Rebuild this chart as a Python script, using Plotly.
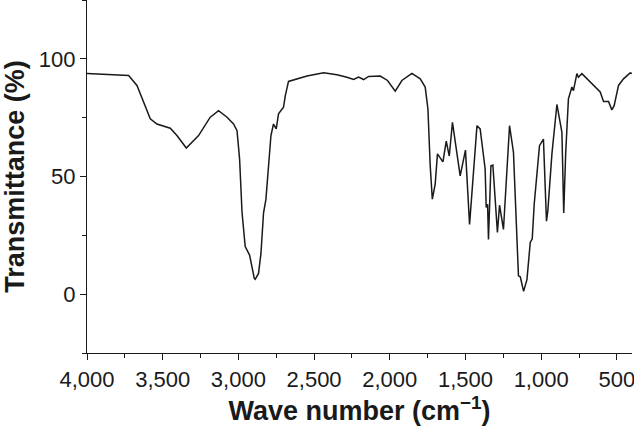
import plotly.graph_objects as go

wavenumber = [4000, 3725, 3670, 3582, 3538, 3450, 3406, 3344, 3263, 3186, 3131, 3075, 3032, 3009, 2992,
              2976, 2955, 2926, 2895, 2889, 2867, 2851, 2834, 2818, 2785, 2768, 2750, 2735, 2702, 2690,
              2669, 2613, 2547, 2437, 2349, 2283, 2239, 2206, 2173, 2140, 2063, 2015, 1964, 1920, 1854,
              1799, 1766, 1748, 1733, 1719, 1700, 1685, 1649, 1627, 1607, 1586, 1535, 1500, 1473, 1424,
              1403, 1370, 1363, 1354, 1348, 1332, 1319, 1289, 1275, 1249, 1209, 1183, 1150, 1138, 1116,
              1094, 1072, 1059, 1046, 1011, 985, 965, 956, 929, 896, 863, 851, 838, 820, 797,
              787, 764, 754, 731, 676, 632, 610, 588, 555, 533, 518, 489, 456, 412, 401]
transmittance = [93.8, 92.9, 88.7, 74.5, 72.3, 70.5, 67.4, 62.1, 67.4, 75.2, 78.0, 75.2, 72.3, 69.5, 57.4,
                 34.8, 20.2, 16.6, 6.7, 6.3, 8.8, 17.3, 34.4, 40.4, 67.4, 72.3, 70.2, 76.6, 79.5, 84.4,
                 90.4, 91.5, 92.7, 94.1, 93.2, 92.2, 91.2, 92.2, 91.2, 92.5, 92.7, 90.8, 86.3, 90.8, 93.8,
                 91.5, 88.0, 78.7, 54.6, 40.4, 46.8, 59.6, 56.2, 65.0, 58.7, 73.0, 50.3, 61.2, 29.6, 71.6,
                 70.2, 53.2, 36.8, 38.2, 23.2, 54.6, 54.9, 26.2, 37.8, 27.5, 71.6, 60.3, 7.8, 7.4, 1.2,
                 6.2, 22.0, 23.5, 38.2, 63.1, 65.9, 31.0, 35.4, 59.6, 80.6, 68.8, 34.5, 60.0, 83.0, 88.0,
                 86.5, 93.7, 92.2, 93.7, 90.1, 87.3, 85.9, 81.9, 81.9, 78.3, 80.1, 88.7, 91.5, 94.0, 93.8]

x_ticks = [4000, 3500, 3000, 2500, 2000, 1500, 1000, 500]
x_labels = ["4,000", "3,500", "3,000", "2,500", "2,000", "1,500", "1,000", "500"]
y_ticks = [0, 50, 100]

fig = go.Figure()
fig.add_trace(go.Scatter(x=wavenumber, y=transmittance, mode="lines",
                         line=dict(color="#1a1a1a", width=1.5), showlegend=False))

fig.update_layout(
    width=634, height=428,
    margin=dict(l=87, r=2, t=0, b=75),
    paper_bgcolor="white", plot_bgcolor="white",
    font=dict(family="Liberation Sans, Arial, sans-serif", color="#1a1a1a"),
)
fig.update_xaxes(
    range=[4000, 400], autorange=False, automargin=False,
    tickvals=x_ticks, ticktext=x_labels, ticklabeloverflow="allow",
    ticks="outside", ticklen=6, tickwidth=1.3, tickcolor="#1a1a1a",
    minor=dict(dtick=250, tick0=0, ticks="outside", ticklen=4, tickwidth=1.3, tickcolor="#1a1a1a"),
    showline=True, linecolor="#1a1a1a", linewidth=1.3,
    showgrid=False, zeroline=False,
    tickfont=dict(size=22),
    title=dict(text="<b>Wave number (cm<sup>−1</sup>)</b>", font=dict(size=27), standoff=8),
)
fig.update_yaxes(
    range=[-25, 125], autorange=False, automargin=False,
    tickvals=y_ticks, ticklabeloverflow="allow",
    ticks="outside", ticklen=6, tickwidth=1.3, tickcolor="#1a1a1a",
    minor=dict(dtick=25, tick0=0, ticks="outside", ticklen=4, tickwidth=1.3, tickcolor="#1a1a1a"),
    showline=True, linecolor="#1a1a1a", linewidth=1.3,
    showgrid=False, zeroline=False,
    tickfont=dict(size=22),
    title=dict(text="<b>Transmittance (%)</b>", font=dict(size=27), standoff=10),
)

fig.write_html("out.html", config={"displayModeBar": False},
               post_script="document.body.style.margin='0';document.body.style.padding='0';document.body.style.overflow='hidden';")
